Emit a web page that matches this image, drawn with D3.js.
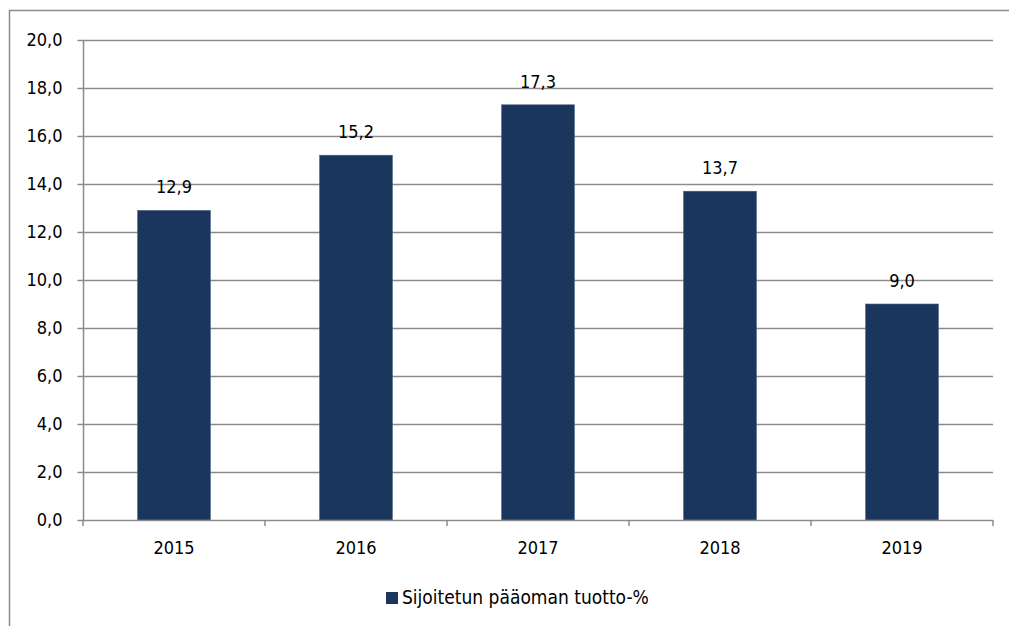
<!DOCTYPE html>
<html><head><meta charset="utf-8">
<script src="https://cdn.jsdelivr.net/npm/d3@7"></script>
<style>body{margin:0;background:#fff}svg{display:block}text{font-family:"Liberation Sans Narrow","DejaVu Sans Condensed","Open Sans",sans-serif;fill:#000}</style>
</head><body><svg id="c" width="1009" height="626"></svg>
<script>
const years = ["2015","2016","2017","2018","2019"];
const values = [12.9, 15.2, 17.3, 13.7, 9.0];
const yTicks = [0,2,4,6,8,10,12,14,16,18,20];
const seriesName = "Sijoitetun pääoman tuotto-%";

const svg = d3.select("#c");
const m = {l:83, r:993, t:40, b:520};
const fs = "18px";
const fmt = v => v.toFixed(1).replace(".", ",");
const x = d3.scaleBand().domain(years).range([m.l, m.r]).paddingInner(0.6).paddingOuter(0.3);
const y = d3.scaleLinear().domain([0,20]).range([m.b, m.t]);

// outer border
svg.append("rect").attr("x",9.5).attr("y",10.5).attr("width",1010).attr("height",630)
  .attr("fill","none").attr("stroke","#8c8c8c").attr("stroke-width",1.5);

// gridlines
svg.append("g").selectAll("line").data(yTicks.filter(d=>d>0)).join("line")
  .attr("x1",m.l).attr("x2",m.r).attr("y1",d=>Math.round(y(d))+0.5).attr("y2",d=>Math.round(y(d))+0.5)
  .attr("stroke","#8c8c8c").attr("stroke-width",1.5);

// y axis
const ya = svg.append("g").attr("transform",`translate(${m.l+0.5},0)`)
  .call(d3.axisLeft(y).tickValues(yTicks).tickFormat(fmt).tickSize(6).tickPadding(15));
ya.select(".domain").attr("stroke","#8c8c8c").attr("stroke-width",1.5).attr("d",`M0,${m.t}V${m.b}`);
ya.selectAll(".tick line").attr("stroke","#8c8c8c").attr("stroke-width",1.5);
ya.selectAll(".tick text").style("font-size",fs).attr("fill","#000");

// bars
svg.append("g").selectAll("rect").data(values).join("rect")
  .attr("x",(d,i)=>x(years[i])).attr("width",x.bandwidth())
  .attr("y",d=>y(d)).attr("height",d=>y(0)-y(d))
  .attr("fill","#1b365d").attr("stroke","#4a6285").attr("stroke-width",0.6);

// x axis
const xa = svg.append("g").attr("transform",`translate(0,${m.b+0.5})`)
  .call(d3.axisBottom(x).tickSize(0).tickPadding(21));
xa.select(".domain").attr("stroke","#8c8c8c").attr("stroke-width",1.5).attr("d",`M${m.l},0H${m.r}`);
xa.selectAll(".tick text").style("font-size",fs).attr("fill","#000");
svg.append("g").selectAll("line").data(d3.range(years.length+1)).join("line")
  .attr("x1",i=>m.l+i*(m.r-m.l)/years.length).attr("x2",i=>m.l+i*(m.r-m.l)/years.length)
  .attr("y1",m.b).attr("y2",m.b+6).attr("stroke","#8c8c8c").attr("stroke-width",1.5);

// value labels
svg.append("g").selectAll("text").data(values).join("text")
  .attr("x",(d,i)=>x(years[i])+x.bandwidth()/2).attr("y",d=>y(d)-17)
  .attr("text-anchor","middle").style("font-size",fs).text(fmt);

// legend
const lg = svg.append("g");
lg.append("rect").attr("x",386).attr("y",592).attr("width",12).attr("height",12).attr("fill","#1b365d");
lg.append("text").attr("x",402).attr("y",604).style("font-size","19px").text(seriesName);
</script></body></html>
